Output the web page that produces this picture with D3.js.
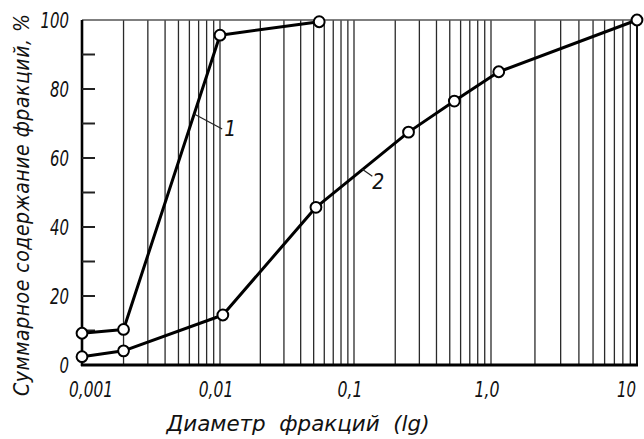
<!DOCTYPE html>
<html>
<head>
<meta charset="utf-8">
<script src="https://cdn.jsdelivr.net/npm/d3@7"></script>
<style>
  html, body { margin: 0; padding: 0; background: #fff; }
  svg { display: block; }
  text { font-family: "DejaVu Sans Condensed", "DejaVu Sans", sans-serif; font-style: italic; fill: #111; }
</style>
</head>
<body>
<svg id="chart" width="644" height="439"></svg>
<script>
// ---- data ----
const xTickValues = [0.001, 0.01, 0.1, 1, 10];
const xTickLabels = ["0,001", "0,01", "0,1", "1,0", "10"];
const yTickValues = [0, 20, 40, 60, 80, 100];
const yTickLabels = ["0", "20", "40", "60", "80", "100"];
const yMinorTicks = [10, 20, 30, 40, 50, 60, 70, 80, 90];

const series1Diam = [0.001, 0.002, 0.01, 0.055];
const series1Pct  = [9.2, 10.3, 95.6, 99.5];
const series2Diam = [0.001, 0.002, 0.0105, 0.052, 0.25, 0.54, 1.13, 10];
const series2Pct  = [2.4, 4.1, 14.5, 45.7, 67.5, 76.5, 85.0, 100];

const seriesNames = ["1", "2"];
const xTitle = "Диаметр  фракций  (lg)";
const yTitle = "Суммарное содержание фракций, %";

// ---- layout ----
const svg = d3.select("#chart");
const pLeft = 82, pRight = 637, pTop = 20, pBottom = 365;

// the printed log paper has slightly unequal decades
const x = d3.scaleLog()
  .domain(xTickValues)
  .range([82, 220, 354, 491, 637]);
const y = d3.scaleLinear().domain([0, 100]).range([pBottom, pTop]);

// narrow drawing-style numerals
const numWidth = s => s.replace(/[^0-9]/g, "").length * 9.5 + s.replace(/[0-9]/g, "").length * 6;

// vertical log grid
const gridVals = x.ticks().filter(v => v > 0.001 * 1.0001 && v < 10 * 0.9999);
svg.append("g").selectAll("line").data(gridVals).join("line")
  .attr("x1", d => x(d)).attr("x2", d => x(d))
  .attr("y1", pTop).attr("y2", pBottom)
  .attr("stroke", "#2a2a2a").attr("stroke-width", 1.3);

// frame
svg.append("line").attr("x1", pLeft).attr("x2", pRight).attr("y1", pTop).attr("y2", pTop)
  .attr("stroke", "#555").attr("stroke-width", 1.6);
svg.append("line").attr("x1", pRight).attr("x2", pRight).attr("y1", pTop).attr("y2", pBottom)
  .attr("stroke", "#111").attr("stroke-width", 2);
svg.append("line").attr("x1", pLeft).attr("x2", pLeft).attr("y1", pTop).attr("y2", pBottom + 1)
  .attr("stroke", "#000").attr("stroke-width", 2.6);
svg.append("line").attr("x1", pLeft - 1).attr("x2", pRight + 1).attr("y1", pBottom).attr("y2", pBottom)
  .attr("stroke", "#000").attr("stroke-width", 3);

// y inner ticks
svg.append("g").selectAll("line").data(yMinorTicks).join("line")
  .attr("x1", pLeft).attr("x2", pLeft + 13)
  .attr("y1", d => y(d)).attr("y2", d => y(d))
  .attr("stroke", "#222").attr("stroke-width", 2);

// y labels
svg.append("g").selectAll("text").data(yTickValues).join("text")
  .attr("x", 69).attr("y", d => y(d)).attr("dy", "0.36em")
  .attr("text-anchor", "end").attr("font-size", 22)
  .attr("textLength", (d, i) => numWidth(yTickLabels[i]))
  .attr("lengthAdjust", "spacingAndGlyphs")
  .text((d, i) => yTickLabels[i]);

// x labels (first starts at the axis, last ends at the frame)
const lastX = xTickValues.length - 1;
svg.append("g").selectAll("text").data(xTickValues).join("text")
  .attr("x", (d, i) => i === 0 ? x(d) - 13 : (i === lastX ? x(d) - 1 : x(d) - 4))
  .attr("y", 397)
  .attr("text-anchor", (d, i) => i === 0 ? "start" : (i === lastX ? "end" : "middle"))
  .attr("font-size", 22)
  .attr("textLength", (d, i) => numWidth(xTickLabels[i]))
  .attr("lengthAdjust", "spacingAndGlyphs")
  .text((d, i) => xTickLabels[i]);

// titles
svg.append("text")
  .attr("x", 298).attr("y", 431)
  .attr("text-anchor", "middle")
  .attr("font-size", 21)
  .style("white-space", "pre")
  .attr("textLength", 263).attr("lengthAdjust", "spacingAndGlyphs")
  .text(xTitle);

svg.append("text")
  .attr("transform", "translate(29,205) rotate(-90)")
  .attr("text-anchor", "middle")
  .attr("font-size", 21)
  .attr("textLength", 382).attr("lengthAdjust", "spacing")
  .text(yTitle);

// series
const line = d3.line().x(d => x(d[0])).y(d => y(d[1]));
const s1 = series1Diam.map((d, i) => [d, series1Pct[i]]);
const s2 = series2Diam.map((d, i) => [d, series2Pct[i]]);

[s1, s2].forEach(s => {
  svg.append("path").datum(s).attr("d", line)
    .attr("fill", "none").attr("stroke", "#000").attr("stroke-width", 3)
    .attr("stroke-linejoin", "round");
});
[s1, s2].forEach(s => {
  svg.append("g").selectAll("circle").data(s).join("circle")
    .attr("cx", d => x(d[0])).attr("cy", d => y(d[1])).attr("r", 5.4)
    .attr("fill", "#fff").attr("stroke", "#000").attr("stroke-width", 2);
});

// callouts (leader from a point on each curve)
function pointOn(s, xv) {
  const lx = Math.log10(xv);
  for (let i = 0; i < s.length - 1; i++) {
    const a = Math.log10(s[i][0]), b = Math.log10(s[i + 1][0]);
    if (lx >= a && lx <= b) {
      const t = (lx - a) / (b - a);
      return [x(xv), y(s[i][1] + t * (s[i + 1][1] - s[i][1]))];
    }
  }
}
const c1 = pointOn(s1, 0.0065);
const c2 = pointOn(s2, 0.115);
svg.append("line").attr("x1", c1[0]).attr("y1", c1[1]).attr("x2", c1[0] + 28).attr("y2", c1[1] + 15)
  .attr("stroke", "#222").attr("stroke-width", 1.2);
svg.append("text").attr("x", c1[0] + 36).attr("y", c1[1] + 22).attr("text-anchor", "middle")
  .attr("font-size", 21).text(seriesNames[0]);
svg.append("line").attr("x1", c2[0]).attr("y1", c2[1]).attr("x2", c2[0] + 10).attr("y2", c2[1] + 7)
  .attr("stroke", "#222").attr("stroke-width", 1.2);
svg.append("text").attr("x", c2[0] + 16).attr("y", c2[1] + 20).attr("text-anchor", "middle")
  .attr("font-size", 21).text(seriesNames[1]);
</script>
</body>
</html>
